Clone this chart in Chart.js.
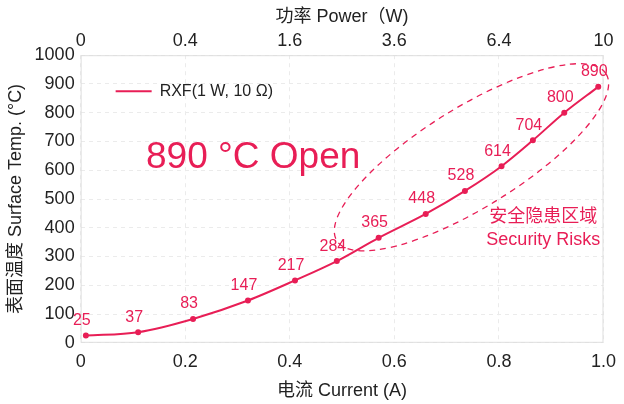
<!DOCTYPE html>
<html>
<head>
<meta charset="utf-8">
<script src="https://cdn.jsdelivr.net/npm/chart.js@4"></script>
<style>
  html, body { margin: 0; padding: 0; background: #fff; }
  #wrap { width: 624px; height: 404px; }
</style>
</head>
<body>
<div id="wrap"><canvas id="tempChart"></canvas></div>
<script>
// current (A) and surface temperature (°C)
const currents = [0.01, 0.11, 0.215, 0.32, 0.41, 0.49, 0.57, 0.66, 0.735, 0.805, 0.865, 0.925, 0.99];
const temps = [25, 37, 83, 147, 217, 284, 365, 448, 528, 614, 704, 800, 890];
const seriesName = 'RXF(1 W, 10 Ω)';
const resistance = 10; // P = I² · R for the top axis

// notes in data units
const openNote = { text: '890 °C Open', x: 0.33, y: 645 };
const riskNote = { lines: ['安全隐患区域', 'Security Risks'], x: 0.885, y: [438, 358] };
const riskZone = { from: { x: 0.49, y: 355 }, to: { x: 1.005, y: 935 } };

const red = 'rgb(232, 30, 86)';
const fontFamily = '"Liberation Sans", Arial, "Noto Sans CJK SC", sans-serif';
const gridColor = '#ebebeb';

const points = currents.map((c, i) => ({ x: c, y: temps[i] }));

// frame, legend, labels and the dashed ellipse
const extras = {
    id: 'extras',
    afterDraw(chart) {
        const ctx = chart.ctx;
        const area = chart.chartArea;
        const xs = chart.scales.x;
        const ys = chart.scales.y;
        ctx.save();

        // frame round the plot
        ctx.strokeStyle = '#dedede';
        ctx.lineWidth = 1;
        ctx.strokeRect(area.left + 0.5, area.top + 0.5, area.right - area.left - 1, area.bottom - area.top - 1);

        // legend inside the plot
        const lx = area.left + 35, ly = area.top + 36;
        ctx.strokeStyle = red;
        ctx.lineWidth = 2;
        ctx.beginPath();
        ctx.moveTo(lx, ly);
        ctx.lineTo(lx + 36, ly);
        ctx.stroke();
        ctx.fillStyle = '#222';
        ctx.font = '16px ' + fontFamily;
        ctx.textBaseline = 'middle';
        ctx.textAlign = 'left';
        ctx.fillText(chart.data.datasets[0].label, lx + 44, ly);

        // value labels above the points
        ctx.fillStyle = red;
        ctx.textAlign = 'center';
        ctx.textBaseline = 'middle';
        ctx.font = '16px ' + fontFamily;
        const meta = chart.getDatasetMeta(0);
        meta.data.forEach((pt, i) => {
            ctx.fillText(String(temps[i]), pt.x - 4, pt.y - 15);
        });

        // big note
        ctx.font = '37px ' + fontFamily;
        ctx.fillText(openNote.text, xs.getPixelForValue(openNote.x), ys.getPixelForValue(openNote.y));

        // risk note
        ctx.font = '18px ' + fontFamily;
        riskNote.lines.forEach((t, i) => {
            ctx.fillText(t, xs.getPixelForValue(riskNote.x), ys.getPixelForValue(riskNote.y[i]));
        });

        // dashed ellipse round the risk zone
        const x1 = xs.getPixelForValue(riskZone.from.x), y1 = ys.getPixelForValue(riskZone.from.y);
        const x2 = xs.getPixelForValue(riskZone.to.x), y2 = ys.getPixelForValue(riskZone.to.y);
        const cx = (x1 + x2) / 2, cy = (y1 + y2) / 2;
        const rx = Math.hypot(x2 - x1, y2 - y1) / 2;
        const rot = Math.atan2(y2 - y1, x2 - x1);
        ctx.strokeStyle = red;
        ctx.lineWidth = 1.3;
        ctx.setLineDash([6, 5]);
        ctx.beginPath();
        ctx.ellipse(cx, cy, rx, 50, rot, 0, Math.PI * 2);
        ctx.stroke();

        ctx.restore();
    }
};

new Chart(document.getElementById('tempChart'), {
    type: 'line',
    data: {
        datasets: [{
            label: seriesName,
            data: points,
            borderColor: red,
            backgroundColor: red,
            borderWidth: 2,
            pointRadius: 2,
            pointHoverRadius: 2,
            cubicInterpolationMode: 'monotone',
            xAxisID: 'x',
            yAxisID: 'y'
        }]
    },
    options: {
        responsive: true,
        maintainAspectRatio: false,
        animation: false,
        layout: { padding: { left: 5, right: 6, top: 6, bottom: 2 } },
        plugins: {
            legend: { display: false },
            tooltip: { enabled: false }
        },
        scales: {
            x: {
                type: 'linear',
                position: 'bottom',
                min: 0,
                max: 1,
                ticks: {
                    stepSize: 0.2,
                    color: '#222',
                    font: { family: fontFamily, size: 18 },
                    padding: 8,
                    callback: v => (v === 1 ? '1.0' : v)
                },
                grid: { color: gridColor, drawTicks: false },
                border: { display: false, dash: [4, 4] },
                title: {
                    display: true,
                    text: '电流 Current (A)',
                    color: '#222',
                    font: { family: fontFamily, size: 18 },
                    padding: { top: 0, bottom: 0 }
                }
            },
            x2: {
                type: 'linear',
                position: 'top',
                min: 0,
                max: 1,
                ticks: {
                    stepSize: 0.2,
                    color: '#222',
                    font: { family: fontFamily, size: 18 },
                    padding: 3,
                    callback: v => Math.round(v * v * resistance * 10) / 10
                },
                grid: { display: false, drawTicks: false },
                border: { display: false },
                title: {
                    display: true,
                    text: '功率 Power（W)',
                    color: '#222',
                    font: { family: fontFamily, size: 18 },
                    padding: { top: 0, bottom: 0 }
                }
            },
            y: {
                min: 0,
                max: 1000,
                ticks: {
                    stepSize: 100,
                    color: '#222',
                    font: { family: fontFamily, size: 18 },
                    padding: 6,
                    callback: v => String(v)
                },
                grid: { color: gridColor, drawTicks: false },
                border: { display: false, dash: [4, 4] },
                title: {
                    display: true,
                    text: '表面温度 Surface Temp. (°C)',
                    color: '#222',
                    font: { family: fontFamily, size: 18 },
                    padding: { top: 0, bottom: 2 }
                }
            }
        }
    },
    plugins: [extras]
});
</script>
</body>
</html>
